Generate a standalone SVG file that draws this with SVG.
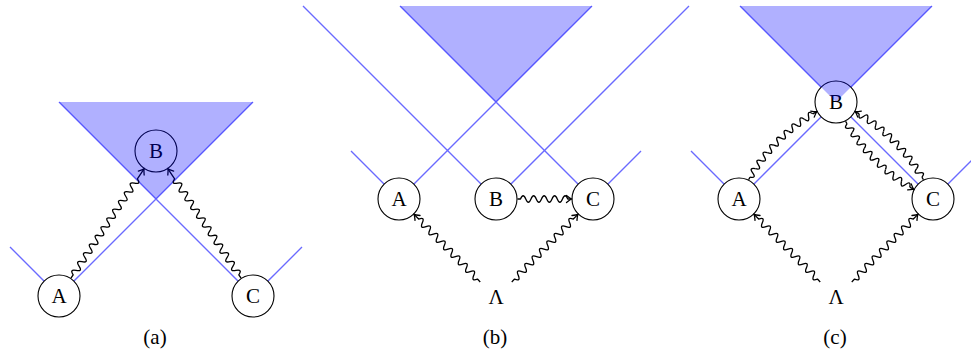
<svg xmlns="http://www.w3.org/2000/svg" width="971" height="353" viewBox="0 0 971 353">
<defs>
<style>
.cone{stroke:#6a6aff;stroke-width:1.4;fill:none}
.fut{fill:#0000ff;fill-opacity:0.31;stroke:none}
.node circle{fill:#fff;stroke:#000;stroke-width:1.1}
.snake{fill:none;stroke:#000;stroke-width:1.3;stroke-linejoin:round}
</style>
<marker id="ah" markerUnits="userSpaceOnUse" viewBox="-6 -5 8 10" markerWidth="8" markerHeight="10" refX="0" refY="0" orient="auto" overflow="visible">
<path d="M-5,-3.5 Q-1.6,-0.7 0,0 Q-1.6,0.7 -5,3.5" fill="none" stroke="#000" stroke-width="1.3" stroke-linecap="round"/>
</marker>
<path id="pw" d="M0,-5 q-6.5,2.5 0,5 q6.5,2.5 0,5"/>
</defs>
<rect width="971" height="353" fill="#fff"/>

<g id="light-cones" class="cone">
<path d="M59,296 L10,247 M59,296 L253,102 M253,296 L59,102 M253,296 L302,247"/>
<path d="M399,199 L351,151 M399,199 L592,6 M496,199 L303,6 M496,199 L689,6 M593,199 L400,6 M593,199 L641,151"/>
<path d="M739,199 L691,151 M739,199 L836,102 M933,199 L836,102 M933,199 L981,151 M836,102 L740,6 M836,102 L932,6"/>
</g>

<g font-family="'Liberation Serif', 'DejaVu Serif', serif" font-size="21" text-anchor="middle" fill="#000">
<g id="a-A" class="node"><circle cx="59" cy="296" r="21"/><text x="59" y="303">A</text></g>
<g id="a-B" class="node"><circle cx="156" cy="151" r="21"/><text x="156" y="158">B</text></g>
<g id="a-C" class="node"><circle cx="253" cy="296" r="21"/><text x="253" y="303">C</text></g>

<g id="b-A" class="node"><circle cx="399" cy="199" r="21"/><text x="399" y="206">A</text></g>
<g id="b-B" class="node"><circle cx="496" cy="199" r="21"/><text x="496" y="206">B</text></g>
<g id="b-C" class="node"><circle cx="593" cy="199" r="21"/><text x="593" y="206">C</text></g>
<g id="b-L" class="node"><text x="496" y="304">Λ</text></g>

<g id="c-A" class="node"><circle cx="739" cy="199" r="21"/><text x="739" y="206">A</text></g>
<g id="c-B" class="node"><circle cx="836" cy="102" r="21"/><text x="836" y="109">B</text></g>
<g id="c-C" class="node"><circle cx="933" cy="199" r="21"/><text x="933" y="206">C</text></g>
<g id="c-L" class="node"><text x="836" y="304">Λ</text></g>
</g>

<g id="connectors" class="snake">
<path marker-end="url(#ah)" transform="translate(70.95,278.13) rotate(-56.22)" d="M0,0 h4 q2.625,-6.5 5.25,0 t5.25,0 t5.25,0 t5.25,0 t5.25,0 t5.25,0 t5.25,0 t5.25,0 t5.25,0 t5.25,0 t5.25,0 t5.25,0 t5.25,0 t5.25,0 t5.25,0 t5.25,0 t5.25,0 t5.25,0 t5.25,0 t5.25,0 t5.25,0 t5.25,0 L131.45,0"/>
<path marker-end="url(#ah)" transform="translate(241.05,278.13) rotate(-123.78)" d="M0,0 h4 q2.625,6.5 5.25,0 t5.25,0 t5.25,0 t5.25,0 t5.25,0 t5.25,0 t5.25,0 t5.25,0 t5.25,0 t5.25,0 t5.25,0 t5.25,0 t5.25,0 t5.25,0 t5.25,0 t5.25,0 t5.25,0 t5.25,0 t5.25,0 t5.25,0 t5.25,0 t5.25,0 L131.45,0"/>

<path marker-end="url(#ah)" transform="translate(517.5,199)" d="M0,0 h3 q2.625,-6.5 5.25,0 t5.25,0 t5.25,0 t5.25,0 t5.25,0 t5.25,0 t5.25,0 t5.25,0 t5.25,0 L54,0"/>
<path marker-end="url(#ah)" transform="translate(480.25,281.93) rotate(-134.42)" d="M0,0 h4 q2.625,-6.5 5.25,0 t5.25,0 t5.25,0 t5.25,0 t5.25,0 t5.25,0 t5.25,0 t5.25,0 t5.25,0 t5.25,0 t5.25,0 t5.25,0 t5.25,0 t5.25,0 t5.25,0 t5.25,0 L94.6,0"/>
<path marker-end="url(#ah)" transform="translate(511.75,281.93) rotate(-45.58)" d="M0,0 h4 q2.625,6.5 5.25,0 t5.25,0 t5.25,0 t5.25,0 t5.25,0 t5.25,0 t5.25,0 t5.25,0 t5.25,0 t5.25,0 t5.25,0 t5.25,0 t5.25,0 t5.25,0 t5.25,0 t5.25,0 L94.6,0"/>

<path marker-end="url(#ah)" transform="translate(820.25,281.93) rotate(-134.42)" d="M0,0 h4 q2.625,-6.5 5.25,0 t5.25,0 t5.25,0 t5.25,0 t5.25,0 t5.25,0 t5.25,0 t5.25,0 t5.25,0 t5.25,0 t5.25,0 t5.25,0 t5.25,0 t5.25,0 t5.25,0 t5.25,0 L94.6,0"/>
<path marker-end="url(#ah)" transform="translate(851.75,281.93) rotate(-45.58)" d="M0,0 h4 q2.625,6.5 5.25,0 t5.25,0 t5.25,0 t5.25,0 t5.25,0 t5.25,0 t5.25,0 t5.25,0 t5.25,0 t5.25,0 t5.25,0 t5.25,0 t5.25,0 t5.25,0 t5.25,0 t5.25,0 L94.6,0"/>

<g id="c-AB">
<path d="M748.57,179.77 L750.08,177.15"/>
<g transform="translate(907.57,270.57)">
<use href="#pw" transform="rotate(212.23) translate(183.1,0)"/>
<use href="#pw" transform="rotate(215.36) translate(183.1,0)"/>
<use href="#pw" transform="rotate(218.49) translate(183.1,0)"/>
<use href="#pw" transform="rotate(221.62) translate(183.1,0)"/>
<use href="#pw" transform="rotate(224.75) translate(183.1,0)"/>
<use href="#pw" transform="rotate(227.88) translate(183.1,0)"/>
<use href="#pw" transform="rotate(231.01) translate(183.1,0)"/>
<use href="#pw" transform="rotate(234.14) translate(183.1,0)"/>
<use href="#pw" transform="rotate(237.27) translate(183.1,0)"/>
</g>
<path d="M812.82,113.89 L816.77,111.57" marker-end="url(#ah)"/>
</g>

<g id="c-BC">
<path d="M845.57,121.23 L847.08,123.85"/>
<g transform="translate(1004.57,30.43)">
<use href="#pw" transform="rotate(147.77) translate(183.1,0)"/>
<use href="#pw" transform="rotate(144.64) translate(183.1,0)"/>
<use href="#pw" transform="rotate(141.51) translate(183.1,0)"/>
<use href="#pw" transform="rotate(138.38) translate(183.1,0)"/>
<use href="#pw" transform="rotate(135.25) translate(183.1,0)"/>
<use href="#pw" transform="rotate(132.12) translate(183.1,0)"/>
<use href="#pw" transform="rotate(128.99) translate(183.1,0)"/>
<use href="#pw" transform="rotate(125.86) translate(183.1,0)"/>
<use href="#pw" transform="rotate(122.73) translate(183.1,0)"/>
</g>
<path d="M909.82,187.11 L913.77,189.43" marker-end="url(#ah)"/>
</g>

<g id="c-CB">
<path d="M923.43,179.77 L921.92,177.15"/>
<g transform="translate(764.43,270.57)">
<use href="#pw" transform="rotate(327.77) translate(183.1,0)"/>
<use href="#pw" transform="rotate(324.64) translate(183.1,0)"/>
<use href="#pw" transform="rotate(321.51) translate(183.1,0)"/>
<use href="#pw" transform="rotate(318.38) translate(183.1,0)"/>
<use href="#pw" transform="rotate(315.25) translate(183.1,0)"/>
<use href="#pw" transform="rotate(312.12) translate(183.1,0)"/>
<use href="#pw" transform="rotate(308.99) translate(183.1,0)"/>
<use href="#pw" transform="rotate(305.86) translate(183.1,0)"/>
<use href="#pw" transform="rotate(302.73) translate(183.1,0)"/>
</g>
<path d="M859.18,113.89 L855.23,111.57" marker-end="url(#ah)"/>
</g>
</g>

<g id="future-regions" class="fut">
<path d="M59,102 L253,102 L156,199 Z"/>
<path d="M400,6 L592,6 L496,102 Z"/>
<path d="M740,6 L932,6 L836,102 Z"/>
</g>

<g id="captions" font-family="'Liberation Serif', 'DejaVu Serif', serif" font-size="21" text-anchor="middle" fill="#000">
<text x="155" y="344">(a)</text>
<text x="495" y="344">(b)</text>
<text x="835" y="344">(c)</text>
</g>
</svg>
